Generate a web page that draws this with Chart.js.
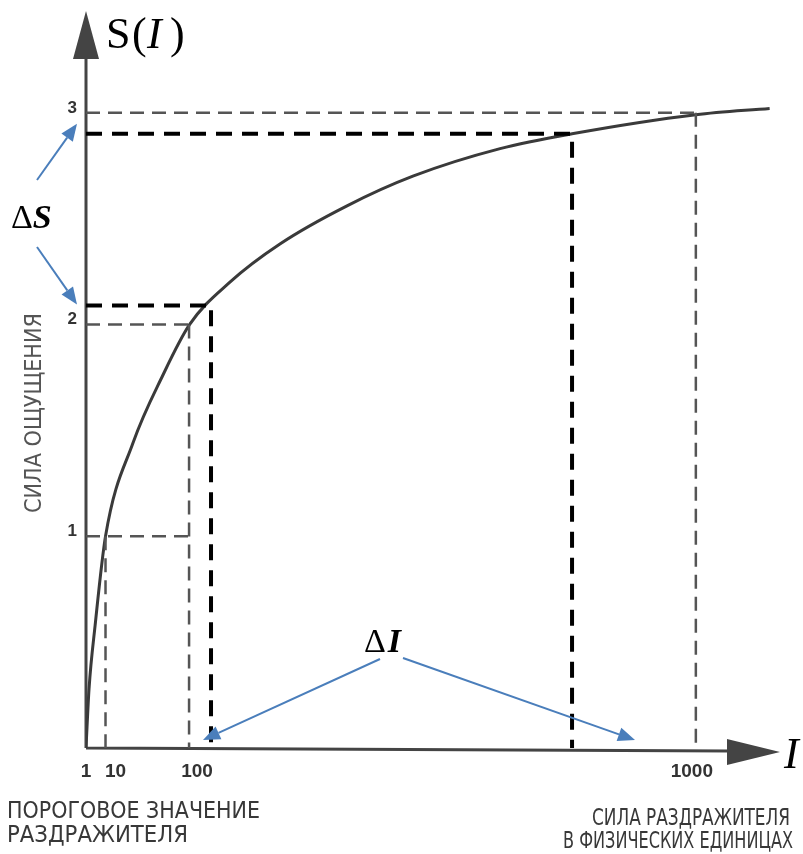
<!DOCTYPE html>
<html>
<head>
<meta charset="utf-8">
<script src="https://cdn.jsdelivr.net/npm/chart.js@4.4.1/dist/chart.umd.min.js"></script>
<style>
  html, body { margin: 0; padding: 0; background: #fff; }
  #wrap { width: 803px; height: 854px; }
</style>
</head>
<body>
<div id="wrap"><canvas id="weberChart" width="803" height="854"></canvas></div>
<script>
// --- data (x is the schematic position along the I axis, 1000 mark = 100) ---
const xTickValues = [0, 3.2, 16.9, 100];
const xTickLabels = ['1', '10', '100', '1000'];
const yTickValues = [1, 2, 3];
const yTickLabels = ['1', '2', '3'];

const curveX = [0, 0.5, 1.5, 3.2, 7.7, 12.6, 17.0, 23.6, 31.8, 42.8, 53.6, 67.9, 79.7, 100, 112.1];
const curveS = [0, 0.28, 0.58, 1.0, 1.44, 1.76, 2.0, 2.20, 2.38, 2.56, 2.70, 2.83, 2.90, 2.99, 3.02];

// thin grey guides: level S, reaching to x, and drop lines
const guideLevels = [1, 2, 3];
const guideEnds = [16.9, 16.9, 100];
const dropX = [3.2, 16.9, 100];
const dropTop = [1, 2, 3];

// thick black ΔS / ΔI pairs
const deltaX = [20.5, 79.7];
const deltaS = [2.09, 2.90];

const xMax = 113.8;
const yMax = 3.48;

// --- build datasets ---
const grey = '#555';
const datasets = [];

guideLevels.forEach((s, i) => {
    datasets.push({ data: [{ x: 0, y: s }, { x: guideEnds[i], y: s }], borderColor: grey, borderWidth: 2.5, borderDash: [14, 8], pointRadius: 0 });
});
dropX.forEach((x, i) => {
    datasets.push({ data: [{ x: x, y: dropTop[i] }, { x: x, y: 0 }], borderColor: grey, borderWidth: 2.5, borderDash: [14, 8], pointRadius: 0 });
});
deltaX.forEach((x, i) => {
    datasets.push({
        data: [{ x: 0, y: deltaS[i] }, { x: x, y: deltaS[i] }, { x: x, y: 0 }],
        borderColor: '#000', borderWidth: 4, borderDash: [16, 10], pointRadius: 0
    });
});
datasets.push({
    data: curveX.map((x, i) => ({ x: x, y: curveS[i] })),
    borderColor: '#3a3a3a', borderWidth: 3, pointRadius: 0,
    cubicInterpolationMode: 'monotone'
});

// --- drawing helpers ---
function blueArrow(ctx, x1, y1, x2, y2) {
    const ang = Math.atan2(y2 - y1, x2 - x1);
    const len = 17, half = 7;
    ctx.save();
    ctx.strokeStyle = '#4a7ebb';
    ctx.fillStyle = '#4a7ebb';
    ctx.lineWidth = 2;
    ctx.beginPath();
    ctx.moveTo(x1, y1);
    ctx.lineTo(x2 - Math.cos(ang) * len, y2 - Math.sin(ang) * len);
    ctx.stroke();
    ctx.beginPath();
    ctx.moveTo(x2, y2);
    ctx.lineTo(x2 - Math.cos(ang) * len - Math.sin(ang) * half, y2 - Math.sin(ang) * len + Math.cos(ang) * half);
    ctx.lineTo(x2 - Math.cos(ang) * len + Math.sin(ang) * half, y2 - Math.sin(ang) * len - Math.cos(ang) * half);
    ctx.closePath();
    ctx.fill();
    ctx.restore();
}

// draws text squeezed/stretched to a given width (left edge at x)
function fitText(ctx, text, x, y, width) {
    const w = ctx.measureText(text).width;
    ctx.save();
    ctx.translate(x, y);
    ctx.scale(width / w, 1);
    ctx.textAlign = 'left';
    ctx.fillText(text, 0, 0);
    ctx.restore();
}

const axesPlugin = {
    id: 'axesPlugin',
    beforeDatasetsDraw(chart) {
        const { ctx, scales: { x, y } } = chart;
        const x0 = x.getPixelForValue(0);
        const y0 = y.getPixelForValue(0);
        const yTop = y.getPixelForValue(yMax);
        const xEnd = x.getPixelForValue(xMax);
        ctx.save();
        ctx.strokeStyle = '#444';
        ctx.fillStyle = '#444';
        ctx.lineWidth = 3;
        ctx.beginPath();
        ctx.moveTo(x0, y0);
        ctx.lineTo(x0, yTop + 45);
        ctx.moveTo(x0, y0);
        ctx.lineTo(xEnd - 50, y0 + 3);
        ctx.stroke();
        // arrow heads
        ctx.beginPath();
        ctx.moveTo(x0, yTop);
        ctx.lineTo(x0 - 13, yTop + 48);
        ctx.lineTo(x0 + 13, yTop + 48);
        ctx.closePath();
        ctx.fill();
        ctx.beginPath();
        ctx.moveTo(xEnd, y0 + 4);
        ctx.lineTo(xEnd - 53, y0 - 9);
        ctx.lineTo(xEnd - 53, y0 + 17);
        ctx.closePath();
        ctx.fill();
        ctx.restore();
    },
    afterDatasetsDraw(chart) {
        const { ctx, scales: { x, y } } = chart;
        const x0 = x.getPixelForValue(0);
        const y0 = y.getPixelForValue(0);
        ctx.save();

        // tick labels
        ctx.fillStyle = '#333';
        ctx.font = 'bold 19px "Liberation Sans", Arial, sans-serif';
        ctx.textAlign = 'center';
        ctx.textBaseline = 'alphabetic';
        const xTickShift = [0, 10, 8, -4];
        xTickValues.forEach((v, i) => {
            ctx.fillText(xTickLabels[i], x.getPixelForValue(v) + xTickShift[i], y0 + 29);
        });
        ctx.font = 'bold 17px "Liberation Sans", Arial, sans-serif';
        ctx.textAlign = 'right';
        yTickValues.forEach((v, i) => {
            ctx.fillText(yTickLabels[i], x0 - 9, y.getPixelForValue(v));
        });

        // axis titles
        ctx.fillStyle = '#000';
        ctx.textAlign = 'left';
        ctx.font = '44px "Liberation Serif", serif';
        ctx.fillText('S', 106, 48);
        ctx.fillText('(', 132, 48);
        ctx.fillText(')', 170, 48);
        ctx.font = 'italic 44px "Liberation Serif", serif';
        ctx.fillText('I', 147, 48);

        ctx.fillText('I', 784, 768);

        // Russian captions
        ctx.fillStyle = '#383838';
        ctx.font = '23px "Liberation Sans Narrow", "DejaVu Sans Condensed", sans-serif';
        fitText(ctx, 'ПОРОГОВОЕ ЗНАЧЕНИЕ', 7, 818, 253);
        fitText(ctx, 'РАЗДРАЖИТЕЛЯ', 7, 842, 181);
        fitText(ctx, 'СИЛА РАЗДРАЖИТЕЛЯ', 592, 825, 198);
        fitText(ctx, 'В ФИЗИЧЕСКИХ ЕДИНИЦАХ', 563, 848, 230);

        ctx.save();
        ctx.translate(41, 513);
        ctx.rotate(-Math.PI / 2);
        ctx.fillStyle = '#555';
        ctx.font = '23px "Liberation Sans Narrow", "DejaVu Sans Condensed", sans-serif';
        fitText(ctx, 'СИЛА ОЩУЩЕНИЯ', 0, 0, 200);
        ctx.restore();

        // ΔS and ΔI labels with arrows
        ctx.fillStyle = '#000';
        ctx.textAlign = 'left';
        ctx.font = '34px "Liberation Serif", serif';
        ctx.fillText('Δ', 11, 228);
        const wd = ctx.measureText('Δ').width;
        ctx.font = 'bold italic 34px "Liberation Serif", serif';
        ctx.fillText('S', 11 + wd, 228);

        ctx.font = '34px "Liberation Serif", serif';
        ctx.fillText('Δ', 364, 652);
        ctx.font = 'bold italic 34px "Liberation Serif", serif';
        ctx.fillText('I', 364 + wd + 2, 652);

        const tipX = x0 - 9;
        blueArrow(ctx, 37, 180, tipX, y.getPixelForValue(deltaS[1]) - 10);
        blueArrow(ctx, 37, 247, tipX, y.getPixelForValue(deltaS[0]) - 1);
        blueArrow(ctx, 380, 659, x.getPixelForValue(deltaX[0]) - 8, y0 - 8);
        blueArrow(ctx, 403, 658, 635, y0 - 8);

        ctx.restore();
    }
};

new Chart(document.getElementById('weberChart'), {
    type: 'line',
    data: { datasets: datasets },
    options: {
        responsive: false,
        animation: false,
        layout: { padding: { left: 86, right: 23, top: 11, bottom: 106 } },
        plugins: { legend: { display: false }, tooltip: { enabled: false } },
        scales: {
            x: { type: 'linear', min: 0, max: xMax, display: false },
            y: { type: 'linear', min: 0, max: yMax, display: false }
        }
    },
    plugins: [axesPlugin]
});
</script>
</body>
</html>
